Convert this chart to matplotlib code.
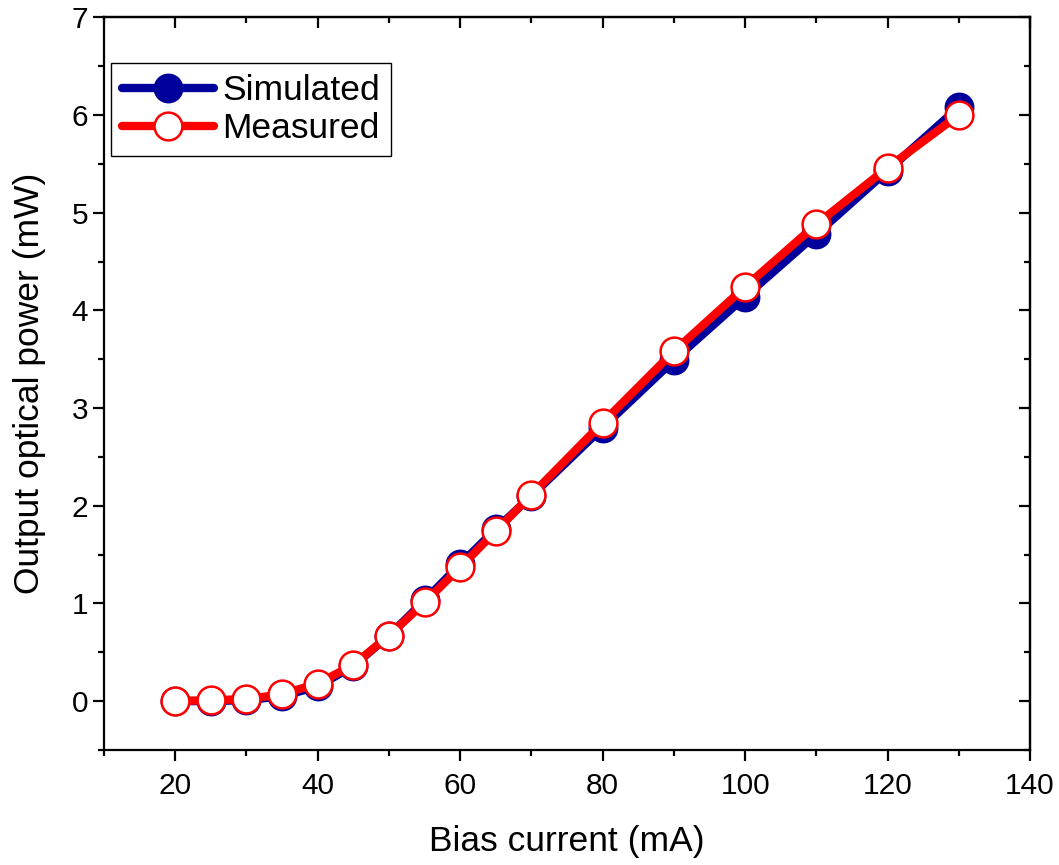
import matplotlib.pyplot as plt
from matplotlib.ticker import MultipleLocator

plt.rcParams['font.family'] = ['Liberation Sans', 'DejaVu Sans']

# bias current (mA)
current = [20, 25, 30, 35, 40, 45, 50, 55, 60, 65, 70, 80, 90, 100, 110, 120, 130]
# output optical power (mW)
simulated = [0.0, 0.0, 0.01, 0.05, 0.15, 0.36, 0.67, 1.03, 1.40, 1.76, 2.10,
             2.80, 3.49, 4.14, 4.78, 5.43, 6.08]
measured = [0.0, 0.01, 0.02, 0.07, 0.18, 0.37, 0.67, 1.01, 1.37, 1.74, 2.11,
            2.85, 3.58, 4.24, 4.88, 5.46, 6.00]

fig = plt.figure(figsize=(10.59, 8.65), dpi=100)
ax = fig.add_axes([0.0982, 0.133, 0.8744, 0.847])

ax.plot(current, simulated, '-o', color='#00009c', lw=6, ms=20,
        mfc='#00009c', mec='#00009c', mew=1.5, label='Simulated',
        solid_capstyle='round')
ax.plot(current, measured, '-o', color='#ff0000', lw=6, ms=20,
        mfc='white', mec='#ff0000', mew=1.8, label='Measured',
        solid_capstyle='round')

ax.set_xlim(10, 140)
ax.set_ylim(-0.5, 7)
ax.xaxis.set_major_locator(MultipleLocator(20))
ax.xaxis.set_minor_locator(MultipleLocator(10))
ax.yaxis.set_major_locator(MultipleLocator(1))
ax.yaxis.set_minor_locator(MultipleLocator(0.5))

for s in ax.spines.values():
    s.set_linewidth(1.6)

ax.tick_params(which='both', width=1.6, labelsize=21.5, color='black')
ax.tick_params(which='major', length=8)
ax.tick_params(which='minor', length=4.5)
ax.tick_params(which='both', direction='out', top=False, right=False)
ax.tick_params(axis='x', pad=8)

# inward ticks along the top and right edges
axt = ax.secondary_xaxis('top')
axt.xaxis.set_major_locator(MultipleLocator(20))
axt.xaxis.set_minor_locator(MultipleLocator(10))
axt.tick_params(which='both', direction='in', width=1.6, labeltop=False)
axt.tick_params(which='major', length=8)
axt.tick_params(which='minor', length=4.5)
axr = ax.secondary_yaxis('right')
axr.yaxis.set_major_locator(MultipleLocator(1))
axr.yaxis.set_minor_locator(MultipleLocator(0.5))
axr.tick_params(which='both', direction='in', width=1.6, labelright=False)
axr.tick_params(which='major', length=8)
axr.tick_params(which='minor', length=4.5)
for sax in (axt, axr):
    for s in sax.spines.values():
        s.set_linewidth(1.6)

ax.set_xlabel('Bias current (mA)', fontsize=25.5, labelpad=18)
ax.set_ylabel('Output optical power (mW)', fontsize=25.5, labelpad=18)

leg = ax.legend(loc='upper left', fontsize=25.5, frameon=True, fancybox=False,
                edgecolor='black', framealpha=1, handlelength=2.6,
                handletextpad=0.25, borderpad=0.3, labelspacing=0.15,
                borderaxespad=0, bbox_to_anchor=(0.0076, 0.937))
leg.get_frame().set_linewidth(1.0)

fig.savefig('out.png', dpi=100)
